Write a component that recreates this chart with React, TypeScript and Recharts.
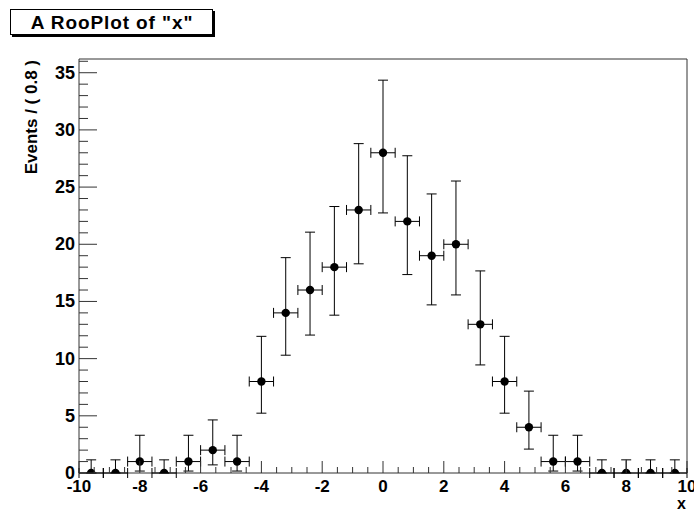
import React from 'react'
import { ScatterChart, Scatter, XAxis, YAxis, ErrorBar, ReferenceArea } from 'recharts'

// bin centres (width 0.8) and event counts
const binCenters = [-9.6, -8.8, -8.0, -7.2, -6.4, -5.6, -4.8, -4.0, -3.2, -2.4, -1.6, -0.8, 0.0, 0.8, 1.6, 2.4, 3.2, 4.0, 4.8, 5.6, 6.4, 7.2, 8.0, 8.8, 9.6]
const counts = [0, 0, 1, 0, 1, 2, 1, 8, 14, 16, 18, 23, 28, 22, 19, 20, 13, 8, 4, 1, 1, 0, 0, 0, 0]
// asymmetric (poisson) error bars, lower / upper
const errLow = [0, 0, 0.83, 0, 0.83, 1.29, 0.83, 2.77, 3.7, 3.94, 4.2, 4.71, 5.26, 4.65, 4.3, 4.43, 3.55, 2.77, 1.91, 0.83, 0.83, 0, 0, 0, 0]
const errHigh = [1.15, 1.15, 2.3, 1.15, 2.3, 2.64, 2.3, 3.95, 4.83, 5.06, 5.3, 5.8, 6.35, 5.74, 5.4, 5.53, 4.67, 3.95, 3.16, 2.3, 2.3, 1.15, 1.15, 1.15, 1.15]
const binHalfWidth = 0.4

const xMajorLabels = [-10, -8, -6, -4, -2, 0, 2, 4, 6, 8, 10]
const yMajorLabels = [0, 5, 10, 15, 20, 25, 30, 35]
const xTicks = Array.from({ length: 41 }, (_, i) => -10 + i * 0.5)
const yTicks = Array.from({ length: 37 }, (_, i) => i)

const Y_MAX = 36.2
const FONT = '"Liberation Sans", Arial, Helvetica, sans-serif'
const AXIS = '#333'

const data = binCenters.map((x, i) => ({
  x,
  y: counts[i],
  ex: binHalfWidth,
  ey: [errLow[i], errHigh[i]],
}))

// eslint-disable-next-line @typescript-eslint/no-explicit-any
const XTick = ({ x, y, payload }: any) => {
  const v = Number(payload?.value)
  const major = xMajorLabels.some((m) => Math.abs(m - v) < 1e-6)
  return (
    <g>
      <line x1={x} x2={x} y1={y} y2={y - (major ? 12 : 6)} stroke={AXIS} />
      {major && (
        <text x={x} y={y + 19} textAnchor="middle" fontSize={17} fontWeight="bold" fontFamily={FONT} fill="#000">
          {v}
        </text>
      )}
    </g>
  )
}

// eslint-disable-next-line @typescript-eslint/no-explicit-any
const YTick = ({ x, y, payload }: any) => {
  const v = Number(payload?.value)
  const major = yMajorLabels.includes(v)
  return (
    <g>
      <line x1={x} x2={x + (major ? 18 : 9)} y1={y} y2={y} stroke={AXIS} />
      {major && (
        <text x={x - 4} y={y + 6} textAnchor="end" fontSize={18} fontWeight="bold" fontFamily={FONT} fill="#000">
          {v}
        </text>
      )}
    </g>
  )
}

// eslint-disable-next-line @typescript-eslint/no-explicit-any
const Dot = ({ cx, cy }: any) => <circle cx={cx} cy={cy} r={4.2} fill="#000" />

export default function App() {
  return (
    <div style={{ position: 'absolute', left: 0, top: 0, width: 694, height: 510, background: '#fff', overflow: 'hidden' }}>
      <ScatterChart width={694} height={510} margin={{ top: 59, right: 7, bottom: 36, left: 78 }}>
        <XAxis
          type="number"
          dataKey="x"
          domain={[-10, 10]}
          ticks={xTicks}
          interval={0}
          height={1}
          tickSize={0}
          tickMargin={0}
          axisLine={false}
          // eslint-disable-next-line @typescript-eslint/no-explicit-any
          tick={(p: any) => <XTick {...p} />}
          allowDataOverflow
        />
        <YAxis
          type="number"
          dataKey="y"
          domain={[0, Y_MAX]}
          ticks={yTicks}
          interval={0}
          width={1}
          tickSize={0}
          tickMargin={0}
          axisLine={false}
          // eslint-disable-next-line @typescript-eslint/no-explicit-any
          tick={(p: any) => <YTick {...p} />}
          allowDataOverflow
        />
        <ReferenceArea x1={-10} x2={10} y1={0} y2={Y_MAX} fill="none" stroke={AXIS} strokeWidth={1} />
        <Scatter data={data} shape={<Dot />} isAnimationActive={false}>
          <ErrorBar dataKey="ey" direction="y" width={5} stroke="#000" strokeWidth={1} />
          <ErrorBar dataKey="ex" direction="x" width={5} stroke="#000" strokeWidth={1} />
        </Scatter>
      </ScatterChart>
      <svg width={694} height={510} style={{ position: 'absolute', left: 0, top: 0, pointerEvents: 'none' }}>
        <rect x={12} y={11} width={203} height={26} fill="#000" />
        <rect x={10.5} y={9.5} width={202} height={25} fill="#fff" stroke="#000" />
        <text
          x={112}
          y={29}
          textAnchor="middle"
          fontSize={19}
          letterSpacing={0.9}
          fontWeight="bold"
          fontFamily={FONT}
          fill="#000"
        >
          A RooPlot of "x"
        </text>
        <text
          transform="translate(37,60) rotate(-90)"
          textAnchor="end"
          fontSize={17}
          fontWeight="bold"
          fontFamily={FONT}
          fill="#000"
        >
          Events / ( 0.8 )
        </text>
        <text x={686} y={509} textAnchor="end" fontSize={16} fontWeight="bold" fontFamily={FONT} fill="#000">
          x
        </text>
      </svg>
    </div>
  )
}
